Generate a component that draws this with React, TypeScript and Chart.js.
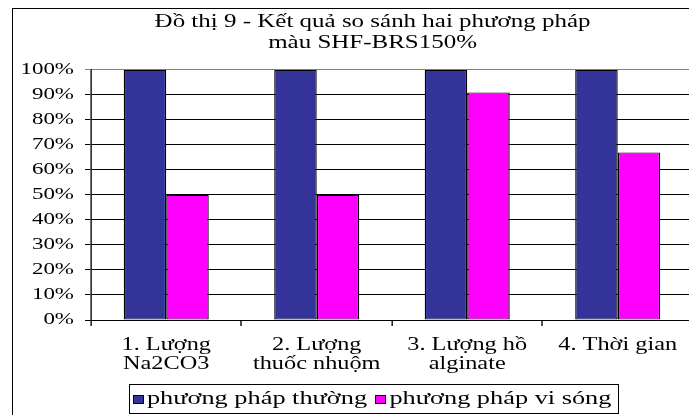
import React, { useEffect, useRef } from 'react';
import { Chart, registerables } from 'chart.js';

Chart.register(...registerables);

// ---- data ----
const categories: string[][] = [
  ['1. Lượng', 'Na2CO3'],
  ['2. Lượng', 'thuốc nhuộm'],
  ['3. Lượng hồ', 'alginate'],
  ['4. Thời gian'],
];
const seriesNames = ['phương pháp thường', 'phương pháp vi sóng'];
const conventional = [100, 100, 100, 100];
const microwave = [50, 50, 91, 67];
const seriesColors = ['#333399', '#FF00FF'];
const titleLines = ['Đồ thị 9 - Kết quả so sánh hai phương pháp', 'màu SHF-BRS150%'];
const yMin = 0;
const yMax = 100;
const yStep = 10;

// ---- geometry ----
const S = 1.35; // horizontal stretch of the picture
const W = 556; // logical width
const H = 415;
const FONT = "'Liberation Serif', 'Times New Roman', serif";
const LEGEND_FS = 19.5;

const stretchPlugin = {
  id: 'stretchFrame',
  beforeDraw(chart: any) {
    const ctx = chart.ctx as CanvasRenderingContext2D;
    ctx.save();
    ctx.setTransform(1, 0, 0, 1, 0, 0);
    ctx.fillStyle = '#ffffff';
    ctx.fillRect(0, 0, chart.canvas.width, chart.canvas.height);
    ctx.strokeStyle = '#000';
    ctx.lineWidth = 1;
    ctx.strokeRect(12.5, 8.5, 900, 600);
    ctx.restore();
    ctx.setTransform(S, 0, 0, 1, 0, 0);
  },
  afterDraw(chart: any) {
    const lg = chart.legend;
    if (!lg || !lg.legendHitBoxes) return;
    const ctx = chart.ctx as CanvasRenderingContext2D;
    ctx.save();
    ctx.setTransform(1, 0, 0, 1, 0, 0);
    let left = Infinity;
    let right = -Infinity;
    let cy = 0;
    lg.legendHitBoxes.forEach((hb: any, i: number) => {
      const textX = (hb.left + LEGEND_FS / 2) * S;
      const mx = Math.round(textX - 4 - 10) + 0.5;
      cy = hb.top + hb.height / 2;
      const my = Math.round(cy - 4) + 0.5;
      ctx.fillStyle = seriesColors[i];
      ctx.fillRect(mx, my, 10, 8);
      ctx.strokeStyle = '#000';
      ctx.lineWidth = 1;
      ctx.strokeRect(mx, my, 10, 8);
      left = Math.min(left, mx - 5);
      right = Math.max(right, (hb.left + hb.width) * S + 6);
    });
    ctx.strokeStyle = '#000';
    ctx.lineWidth = 1;
    ctx.strokeRect(Math.round(left) + 0.5, Math.round(cy - 15) + 0.5, Math.round(right - left), 29);
    ctx.restore();
  },
};

export default function App() {
  const ref = useRef<HTMLCanvasElement | null>(null);

  useEffect(() => {
    const canvas = ref.current;
    if (!canvas) return;
    let alive = true;
    const chart = new Chart(canvas, {
      type: 'bar',
      data: {
        labels: categories,
        datasets: [
          {
            label: seriesNames[0],
            data: conventional,
            backgroundColor: seriesColors[0],
            borderColor: '#000',
            borderWidth: 1,
            borderSkipped: false,
            barPercentage: 1,
            categoryPercentage: 0.565,
          },
          {
            label: seriesNames[1],
            data: microwave,
            backgroundColor: seriesColors[1],
            borderColor: '#000',
            borderWidth: 1,
            borderSkipped: false,
            barPercentage: 1,
            categoryPercentage: 0.565,
          },
        ],
      },
      options: {
        animation: false,
        responsive: false,
        devicePixelRatio: 1,
        events: [],
        layout: { padding: { left: 5, right: 9, top: 0, bottom: -3.7 } },
        plugins: {
          title: {
            display: true,
            text: titleLines,
            color: '#000',
            font: { family: FONT, size: 18.5, weight: 'normal', lineHeight: 1.135 },
            padding: { top: 11.5, bottom: 16.5 },
          },
          legend: {
            display: true,
            position: 'bottom',
            labels: {
              boxWidth: 0,
              boxHeight: 0,
              padding: 6.8,
              color: '#000',
              font: { family: FONT, size: LEGEND_FS },
              generateLabels: (c: any) =>
                c.data.datasets.map((d: any, i: number) => ({
                  text: d.label,
                  fillStyle: 'rgba(0,0,0,0)',
                  strokeStyle: 'rgba(0,0,0,0)',
                  lineWidth: 0,
                  hidden: false,
                  datasetIndex: i,
                  fontColor: '#000',
                })),
            },
          },
          tooltip: { enabled: false },
        },
        scales: {
          x: {
            offset: true,
            grid: {
              drawOnChartArea: false,
              drawTicks: true,
              tickLength: 6,
              color: '#000',
              offset: true,
            },
            border: { display: true, color: '#000', width: 1 },
            ticks: {
              color: '#000',
              font: { family: FONT, size: 18, lineHeight: 1.05 },
              padding: 10,
              maxRotation: 0,
              autoSkip: false,
            },
            afterFit: (scale: any) => {
              scale.height = 62.4;
            },
          },
          y: {
            position: 'left',
            min: yMin,
            max: yMax,
            grid: {
              color: (ctx: any) => (ctx.tick && ctx.tick.value === yMax ? '#808080' : '#000'),
              tickLength: 4.4,
              lineWidth: 1,
            },
            border: { display: true, color: '#000', width: 1 },
            ticks: {
              stepSize: yStep,
              color: '#000',
              padding: 8.2,
              font: { family: FONT, size: 17 },
              callback: (v: any) => v + '%',
            },
            afterFit: (scale: any) => {
              scale.width = 62.4;
            },
          },
          yRight: {
            position: 'right',
            min: yMin,
            max: yMax,
            display: true,
            grid: { display: false, drawTicks: false },
            border: { display: false },
            ticks: { display: false },
            afterFit: (scale: any) => {
              scale.width = 33.7;
            },
          },
        },
      },
      plugins: [stretchPlugin],
    } as any);

    const applyStretch = () => {
      const pw = Math.round(W * S);
      canvas.width = pw;
      canvas.style.width = pw + 'px';
      canvas.style.height = H + 'px';
    };
    applyStretch();
    chart.draw();

    const fontsApi: any = (document as any).fonts;
    if (fontsApi && fontsApi.load) {
      Promise.all([
        fontsApi.load("18px 'Liberation Serif'"),
        fontsApi.load("15px 'Liberation Serif'"),
      ])
        .catch(() => null)
        .then(() => {
          if (!alive) return;
          chart.update();
        });
    }

    return () => {
      alive = false;
      chart.destroy();
    };
  }, []);

  return (
    <div
      style={{
        position: 'absolute',
        left: 0,
        top: 0,
        width: 689,
        height: 415,
        overflow: 'hidden',
        background: '#fff',
      }}
    >
      <canvas ref={ref} width={W} height={H} style={{ display: 'block' }} />
    </div>
  );
}
